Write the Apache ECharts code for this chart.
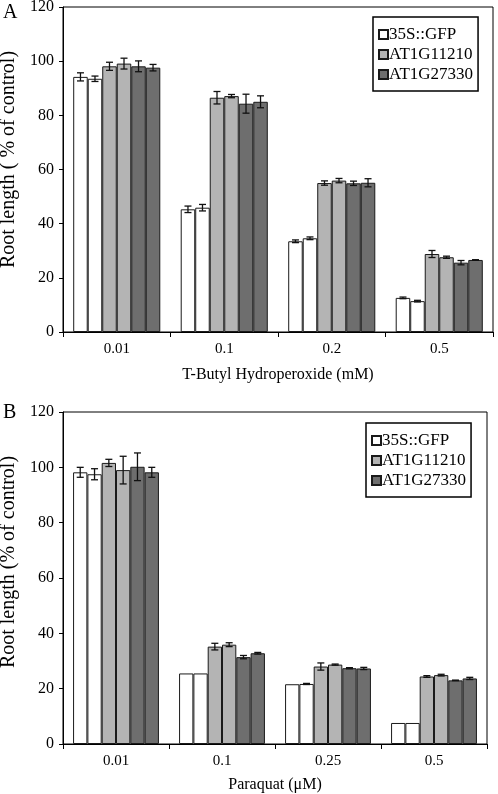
<!DOCTYPE html>
<html><head><meta charset="utf-8">
<script src="https://cdn.jsdelivr.net/npm/echarts@6/dist/echarts.min.js"></script>
<style>html,body{margin:0;padding:0;background:#fff}#c{width:498px;height:794px}</style>
</head><body><div id="c"></div>
<script>
// ---- Data ----
const categoriesA = ['0.01', '0.1', '0.2', '0.5'];
const categoriesB = ['0.01', '0.1', '0.25', '0.5'];
const legendNames = ['35S::GFP', 'AT1G11210', 'AT1G27330'];
const yTickMin = 0, yTickMax = 120, yTickStep = 20;

// Panel A: T-Butyl Hydroperoxide
const gfpA1 = [94.2, 45.3, 33.5, 12.6];
const gfpA2 = [93.5, 45.9, 34.6, 11.4];
const at11210A1 = [98.1, 86.5, 55.0, 28.8];
const at11210A2 = [99.1, 87.1, 55.9, 27.6];
const at27330A1 = [98.1, 84.3, 54.9, 25.6];
const at27330A2 = [97.6, 85.0, 55.1, 26.6];
const gfpA1Err = [1.5, 1.2, 0.5, 0.3];
const gfpA2Err = [1.0, 1.2, 0.5, 0.3];
const at11210A1Err = [1.5, 2.3, 0.8, 1.3];
const at11210A2Err = [2.0, 0.6, 0.8, 0.4];
const at27330A1Err = [2.0, 3.5, 0.8, 0.8];
const at27330A2Err = [1.2, 2.2, 1.5, 0.1];

// Panel B: Paraquat
const gfpB1 = [98.2, 25.5, 21.6, 7.6];
const gfpB2 = [97.5, 25.5, 21.7, 7.6];
const at11210B1 = [101.6, 35.2, 28.0, 24.4];
const at11210B2 = [99.0, 35.9, 28.7, 24.9];
const at27330B1 = [100.2, 31.4, 27.4, 23.0];
const at27330B2 = [98.2, 32.8, 27.3, 23.7];
const gfpB1Err = [1.8, 0, 0, 0];
const gfpB2Err = [2.0, 0, 0.2, 0];
const at11210B1Err = [1.3, 1.2, 1.3, 0.3];
const at11210B2Err = [5.0, 0.7, 0.2, 0.3];
const at27330B1Err = [5.0, 0.6, 0.2, 0.1];
const at27330B2Err = [1.8, 0.3, 0.4, 0.4];

// ---- Styles ----
const FONT = 'Liberation Serif';
const colWhite = '#ffffff', colLight = '#b4b4b4', colDark = '#6e6e6e';
const BAR_FRAC = 0.81;

const chart = echarts.init(document.getElementById('c'), null, {renderer: 'canvas'});

function barSeries(name, data, gi, color) {
  return {
    type: 'bar', name, data, xAxisIndex: gi, yAxisIndex: gi,
    barGap: '0%', barCategoryGap: ((1 - BAR_FRAC) * 100).toFixed(1) + '%',
    itemStyle: {color, borderColor: '#1a1a1a', borderWidth: 1},
    emphasis: {disabled: true}, z: 2
  };
}
function errSeries(vals, errs, k, gi) {
  return {
    type: 'custom', xAxisIndex: gi, yAxisIndex: gi, silent: true, z: 5,
    data: vals.map((v, i) => [i, v, errs[i]]),
    encode: {x: 0, y: 1},
    renderItem: function (params, api) {
      const ci = api.value(0), v = api.value(1), e = api.value(2);
      if (!e) return null;
      const c = api.coord([ci, v]);
      const catW = api.size([1, 0])[0];
      const bw = catW * BAR_FRAC / 6;
      const x = c[0] + (k - 2.5) * bw;
      const yt = api.coord([ci, v + e])[1];
      const yb = api.coord([ci, v - e])[1];
      const hw = 3.5;
      const st = {stroke: '#111', lineWidth: 1.3};
      return {type: 'group', children: [
        {type: 'line', shape: {x1: x, y1: yt, x2: x, y2: yb}, style: st},
        {type: 'line', shape: {x1: x - hw, y1: yt, x2: x + hw, y2: yt}, style: st},
        {type: 'line', shape: {x1: x - hw, y1: yb, x2: x + hw, y2: yb}, style: st}
      ]};
    }
  };
}
function xAxis(cats, gi, name, nameGap) {
  return {
    type: 'category', data: cats, gridIndex: gi,
    name, nameLocation: 'middle', nameGap,
    nameTextStyle: {fontFamily: FONT, fontSize: 16, color: '#000'},
    axisLine: {lineStyle: {color: '#000', width: 1}},
    axisTick: {show: true, length: 5, inside: false, lineStyle: {color: '#000'}},
    axisLabel: {fontFamily: FONT, fontSize: 15, color: '#000', margin: 10},
    splitLine: {show: false}
  };
}
function yAxis(gi, name, shift) {
  return {
    type: 'value', gridIndex: gi, min: yTickMin, max: yTickMax, interval: yTickStep,
    name, nameLocation: 'middle', nameGap: 40, nameRotate: 90,
    nameTextStyle: {fontFamily: FONT, fontSize: 20, color: '#000', padding: [0, 0, 0, shift]},
    axisLine: {show: true, lineStyle: {color: '#000', width: 1}},
    axisTick: {show: true, length: 4, inside: false, lineStyle: {color: '#000'}},
    axisLabel: {fontFamily: FONT, fontSize: 16, color: '#000', margin: 9},
    splitLine: {show: false}
  };
}
function legend(left, top) {
  return {
    data: legendNames, orient: 'vertical', left, top,
    itemWidth: 9, itemHeight: 9, itemGap: 3,
    icon: 'rect',
    padding: [9, 5, 8, 5],
    borderColor: '#000', borderWidth: 1.5, backgroundColor: '#fff',
    textStyle: {fontFamily: FONT, fontSize: 17, color: '#000', padding: [0, 0, 0, -4]},
    selectedMode: false
  };
}

const option = {
  animation: false,
  backgroundColor: '#fff',
  grid: [
    {left: 63, top: 7, width: 430, height: 325, show: true, borderColor: '#000', borderWidth: 1, backgroundColor: 'transparent', containLabel: false, outerBoundsMode: 'none'},
    {left: 63, top: 412, width: 424, height: 332, show: true, borderColor: '#000', borderWidth: 1, backgroundColor: 'transparent', containLabel: false, outerBoundsMode: 'none'}
  ],
  xAxis: [
    xAxis(categoriesA, 0, 'T-Butyl Hydroperoxide (mM)', 35),
    xAxis(categoriesB, 1, 'Paraquat (\u03bcM)', 33)
  ],
  yAxis: [
    yAxis(0, 'Root length ( % of control)', 20),
    yAxis(1, 'Root length (% of control)', 32)
  ],
  legend: [legend(373, 17), legend(366, 423)],
  graphic: [
    {type: 'text', left: 3, top: 3, style: {text: 'A', fontFamily: FONT, fontSize: 20, fill: '#000'}},
    {type: 'text', left: 3, top: 403, style: {text: 'B', fontFamily: FONT, fontSize: 20, fill: '#000'}}
  ],
  series: [
    barSeries('35S::GFP', gfpA1, 0, colWhite),
    barSeries('35S::GFP', gfpA2, 0, colWhite),
    barSeries('AT1G11210', at11210A1, 0, colLight),
    barSeries('AT1G11210', at11210A2, 0, colLight),
    barSeries('AT1G27330', at27330A1, 0, colDark),
    barSeries('AT1G27330', at27330A2, 0, colDark),
    barSeries('35S::GFP', gfpB1, 1, colWhite),
    barSeries('35S::GFP', gfpB2, 1, colWhite),
    barSeries('AT1G11210', at11210B1, 1, colLight),
    barSeries('AT1G11210', at11210B2, 1, colLight),
    barSeries('AT1G27330', at27330B1, 1, colDark),
    barSeries('AT1G27330', at27330B2, 1, colDark),
    errSeries(gfpA1, gfpA1Err, 0, 0),
    errSeries(gfpA2, gfpA2Err, 1, 0),
    errSeries(at11210A1, at11210A1Err, 2, 0),
    errSeries(at11210A2, at11210A2Err, 3, 0),
    errSeries(at27330A1, at27330A1Err, 4, 0),
    errSeries(at27330A2, at27330A2Err, 5, 0),
    errSeries(gfpB1, gfpB1Err, 0, 1),
    errSeries(gfpB2, gfpB2Err, 1, 1),
    errSeries(at11210B1, at11210B1Err, 2, 1),
    errSeries(at11210B2, at11210B2Err, 3, 1),
    errSeries(at27330B1, at27330B1Err, 4, 1),
    errSeries(at27330B2, at27330B2Err, 5, 1)
  ]
};
chart.setOption(option);
</script></body></html>
